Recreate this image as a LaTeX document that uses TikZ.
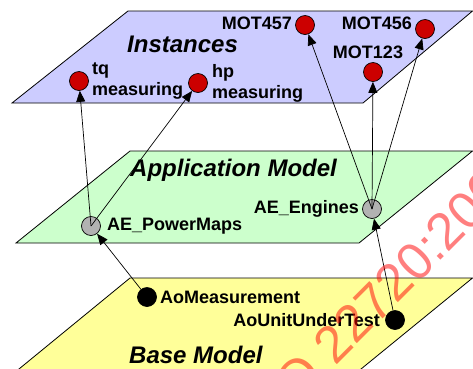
\documentclass[tikz,border=0pt]{standalone}
\usepackage{fontspec}
\setmainfont{Liberation Sans}
\usetikzlibrary{arrows.meta}

\definecolor{instfill}{HTML}{CCCCFF}
\definecolor{applfill}{HTML}{CCFFCC}
\definecolor{basefill}{HTML}{FFFF99}
\definecolor{instred}{HTML}{CC0000}
\definecolor{applgrey}{HTML}{B2B2B2}

\tikzset{
	plane/.style={draw=black, line width=0.8pt},
	title/.style={font=\bfseries\itshape\fontsize{24}{28}\selectfont, anchor=base west, inner sep=0pt},
	obj/.style={circle, draw=black, line width=0.7pt, minimum size=19pt, inner sep=0pt},
	instobj/.style={obj, fill=instred},
	applobj/.style={obj, fill=applgrey},
	baseobj/.style={obj, fill=black},
	lbl/.style={font=\bfseries\fontsize{18}{21}\selectfont, inner sep=1pt, align=left},
	conn/.style={line width=0.7pt, -{Triangle[length=11pt,width=9pt]}},
	stamp/.style={text=red, text opacity=0.5, rotate=45, inner sep=0pt, font=\fontsize{52}{60}\selectfont}
}

\begin{document}
\begin{tikzpicture}[x=1pt, y=-1pt, label distance=2pt]
			%%%%% START %%%%%
			\useasboundingbox (0, 0) rectangle (473, 368);
			
			% planes
			\draw[plane, fill=instfill] (128, 11) -- (472.5, 11) -- (363, 103) -- (12, 103) -- cycle;
			\draw[plane, fill=applfill] (130, 151) -- (472.5, 151) -- (359, 243) -- (16, 243) -- cycle;
			\draw[plane, fill=basefill] (130, 278) -- (472.5, 278) -- (350, 378) -- (8, 378) -- cycle;
			
			\node[title] (tinst) at (127, 52) {Instances};
			\node[title] (tappl) at (130, 176) {Application Model};
			\node[title] (tbase) at (129, 363) {Base Model};
			
			% instances
			\node[instobj, label={[lbl]right:{tq\\measuring}}] (tq) at (79, 81) {};
			\node[instobj, label={[lbl, label distance=3pt]right:{hp\\measuring}}] (hp) at (198, 83) {};
			\node[instobj, label={[lbl, yshift=2pt]left:MOT457}] (m457) at (305, 25) {};
			\node[instobj, label={[lbl, yshift=6pt]left:MOT456}] (m456) at (425, 29) {};
			\node[instobj, label={[lbl, xshift=-5pt]above:MOT123}] (m123) at (373, 72) {};
			
			% application model
			\node[applobj, label={[lbl, label distance=5pt]right:AE\_PowerMaps}] (pm) at (91, 226) {};
			\node[applobj, label={[lbl]left:AE\_Engines}] (eng) at (372, 209) {};
			
			% base model
			\node[baseobj, label={[lbl]right:AoMeasurement}] (meas) at (147, 297) {};
			\node[baseobj, label={[lbl, label distance=4pt]left:AoUnitUnderTest}] (uut) at (395, 320) {};
			
			% connectors
			\draw[conn] (pm.center) -- (tq);
			\draw[conn] (pm.center) -- (hp);
			\draw[conn] (eng.center) -- (m457);
			\draw[conn] (eng.center) -- (m123);
			\draw[conn] (eng.center) -- (m456);
			\draw[conn] (meas) -- (pm);
			\draw[conn] (uut) -- (eng);
			
			\node[stamp] (wm) at (383, 293) {ISO 22720:2005};
			%%%%% END %%%%%
\end{tikzpicture}
\end{document}
